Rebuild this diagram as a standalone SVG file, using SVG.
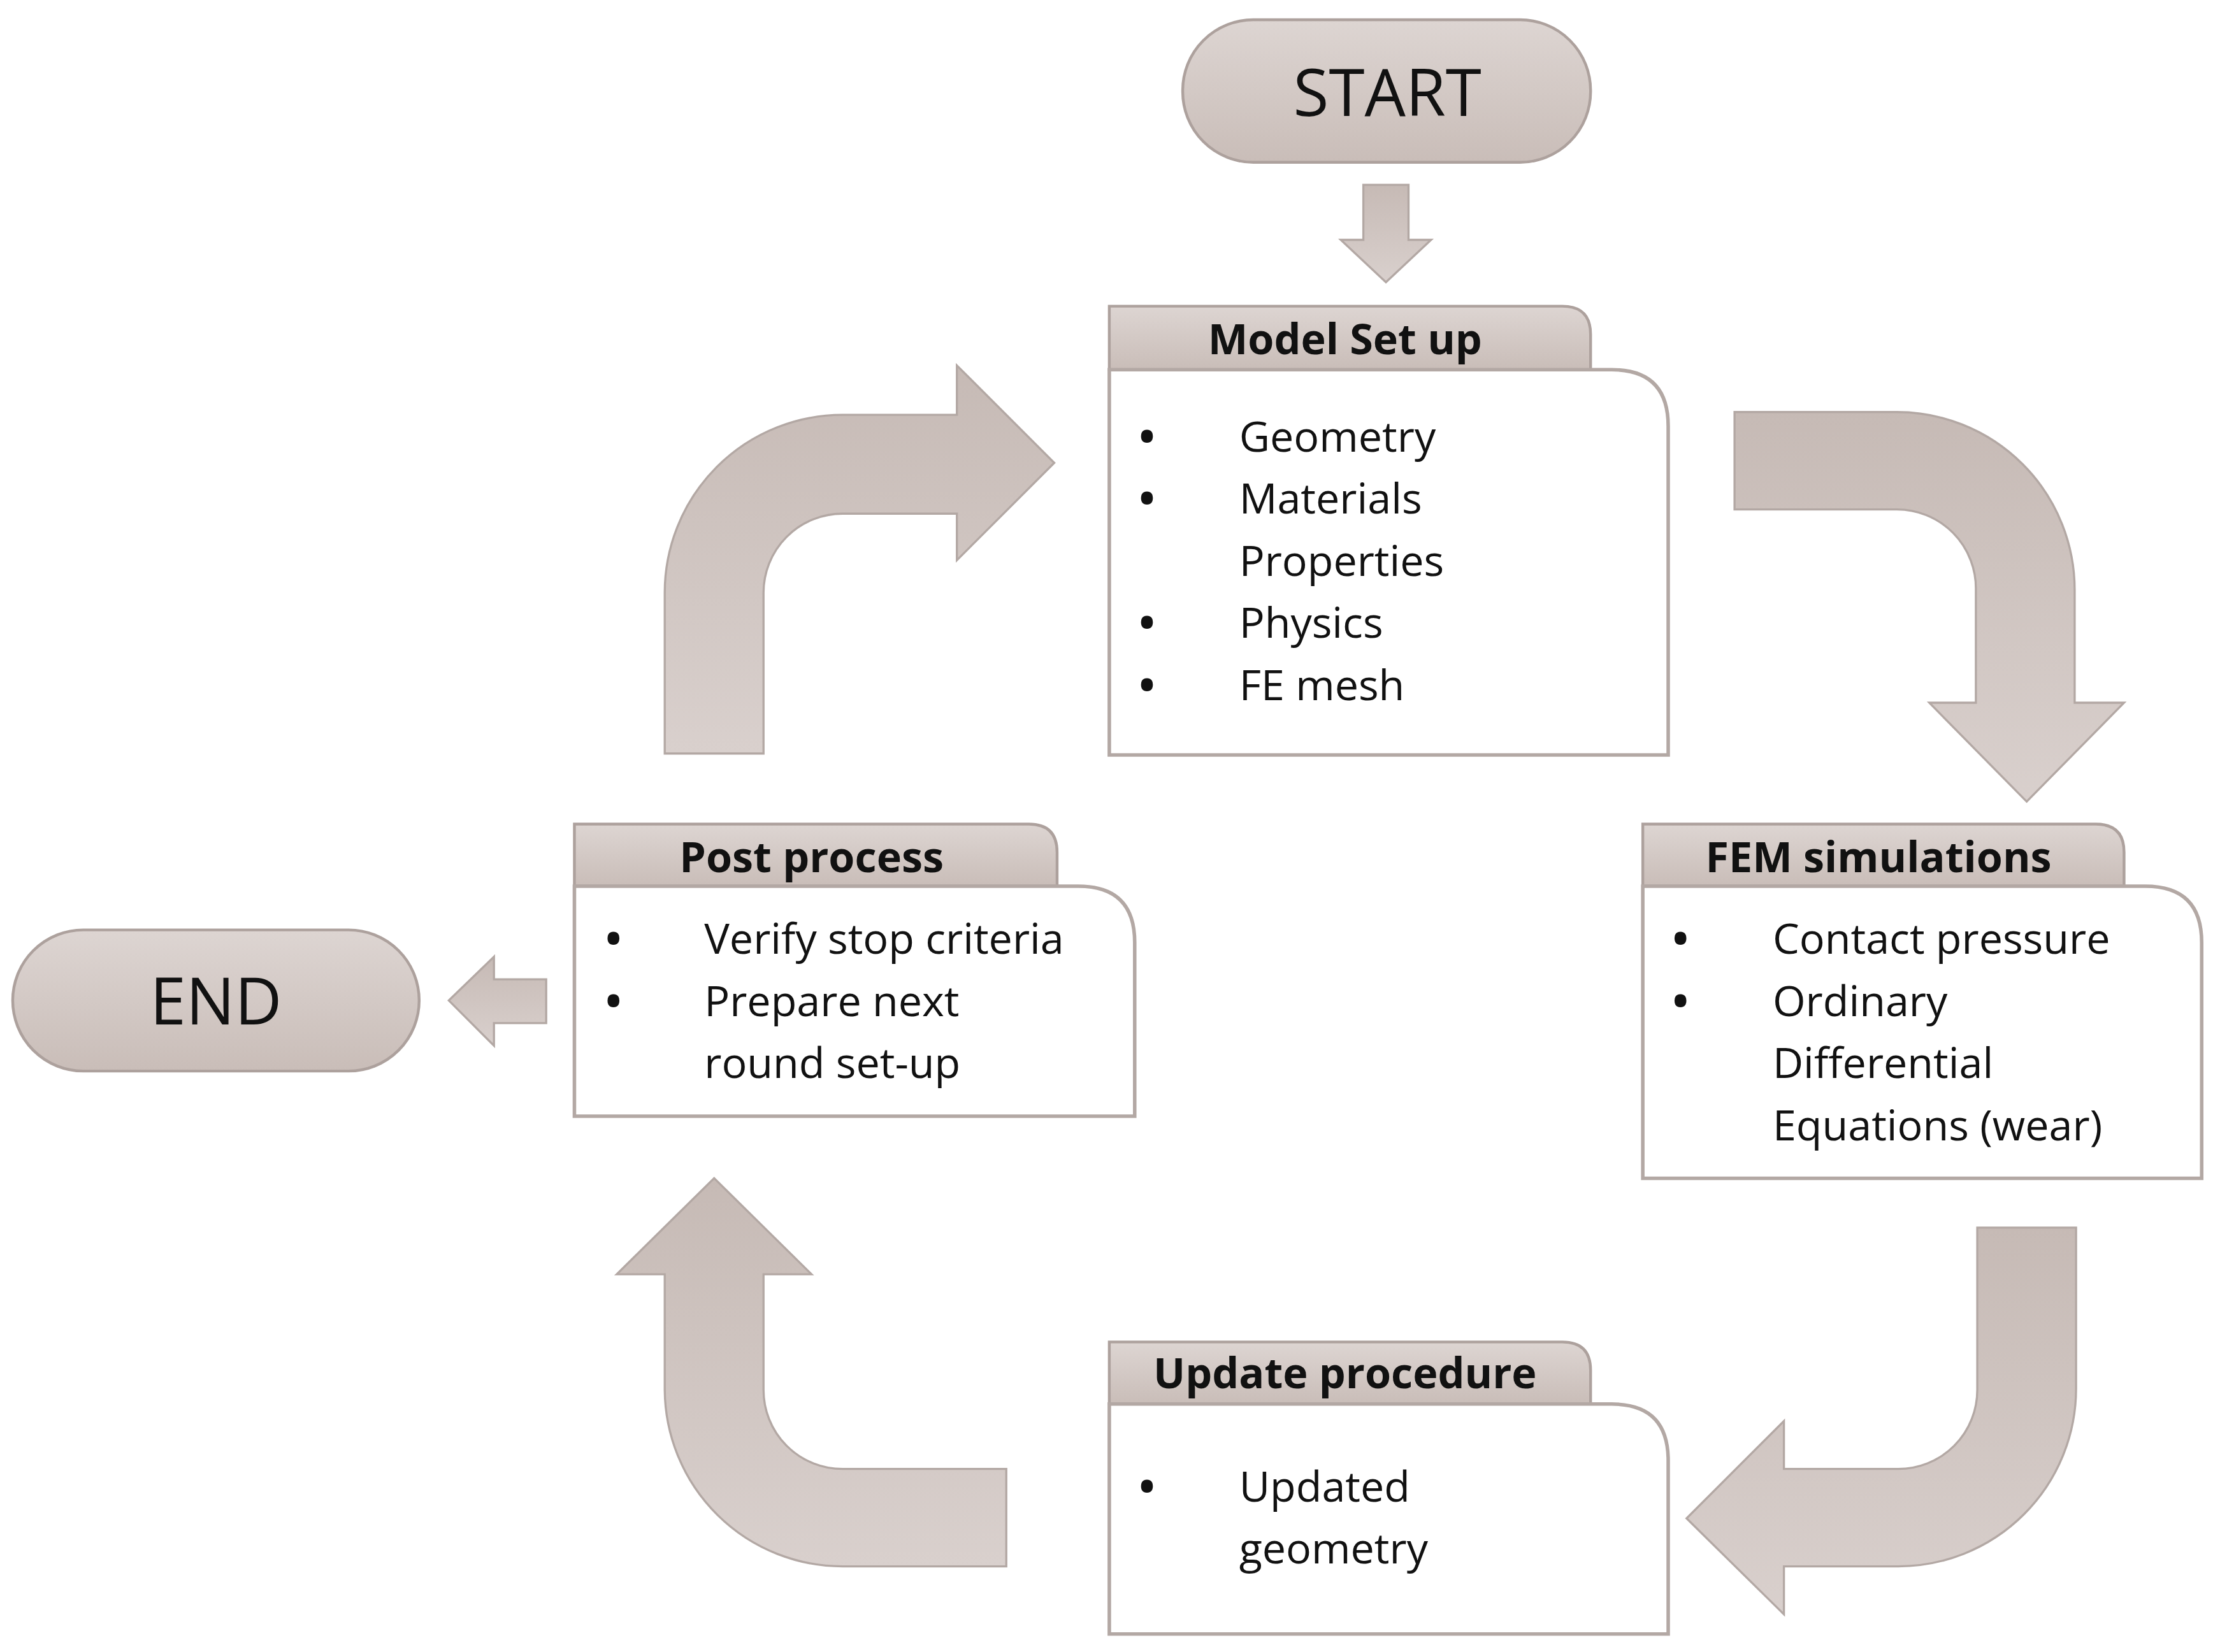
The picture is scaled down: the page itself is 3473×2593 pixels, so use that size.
<svg xmlns="http://www.w3.org/2000/svg" width="3473" height="2593" viewBox="0 0 3473 2593">
<defs>
<linearGradient id="g" x1="0" y1="0" x2="0" y2="1"><stop offset="0" stop-color="#ddd5d2"/><stop offset="1" stop-color="#c9bdb8"/></linearGradient>
<linearGradient id="ga" x1="0" y1="0" x2="0" y2="1"><stop offset="0" stop-color="#c6bab5"/><stop offset="1" stop-color="#d9d0cd"/></linearGradient>
<style>
.sh{fill:url(#g);stroke:#ada19d;stroke-width:2}
.ar{fill:url(#ga);stroke:#b3a8a4;stroke-width:1.5}
.body{fill:#fff;stroke:#b3a8a4;stroke-width:2.5}
.t{font-family:"Open Sans","Noto Sans",sans-serif;font-size:30px;fill:#111}
.b{font-family:"Open Sans","Noto Sans",sans-serif;font-size:30px;font-weight:bold;fill:#111}
.h{font-family:"Open Sans","Noto Sans",sans-serif;font-size:30px;font-weight:bold;fill:#111;text-anchor:middle}
.big{font-family:"Open Sans","Noto Sans",sans-serif;font-size:46px;fill:#111;text-anchor:middle}
</style>
</defs>
<rect width="3473" height="2593" fill="#fff"/>
<g transform="scale(2.2149)">
<g id="connectors">
<path class="ar" d="M966,131 L998,131 L998,170 L1014,170 L982,200 L950,170 L966,170 Z"/>
<path class="ar" d="M387,694 L387,725 L350,725 L350,741 L318,709 L350,678 L350,694 Z"/>
<path class="ar" d="M471,534 L471,420 A126,126 0 0 1 597,294 L678,294 L678,259 L747,328 L678,397 L678,364 L597,364 A56,56 0 0 0 541,420 L541,534 Z"/>
<path class="ar" d="M1229,292 L1344,292 A126,126 0 0 1 1470,418 L1470,498 L1505,498 L1436,568 L1367,498 L1400,498 L1400,418 A56,56 0 0 0 1344,361 L1229,361 Z"/>
<path class="ar" d="M1471,870 L1471,984 A126,126 0 0 1 1345,1110 L1264,1110 L1264,1144 L1195,1076 L1264,1007 L1264,1041 L1345,1041 A56,56 0 0 0 1401,985 L1401,870 Z"/>
<path class="ar" d="M713,1041 L597,1041 A56,56 0 0 1 541,985 L541,903 L575,903 L506,835 L437,903 L471,903 L471,985 A126,126 0 0 0 597,1110 L713,1110 Z"/>
</g>
<g id="start"><rect class="sh" x="838" y="14" width="289" height="101" rx="50"/><text class="big" x="983" y="82">START</text></g>
<g id="end"><rect class="sh" x="9" y="659" width="288" height="100" rx="50"/><text class="big" x="153" y="726">END</text></g>
<g id="model">
<path class="sh" d="M786,262 L786,217 L1107,217 Q1127,217 1127,237 L1127,262 Z"/>
<path class="body" d="M786,262 L1142,262 Q1182,262 1182,302 L1182,535 L786,535 Z"/>
<text class="h" x="953" y="251">Model Set up</text>
<text class="b" x="807" y="320">•</text><text class="t" x="878" y="320">Geometry</text>
<text class="b" x="807" y="364">•</text><text class="t" x="878" y="364">Materials</text>
<text class="t" x="878" y="408">Properties</text>
<text class="b" x="807" y="452">•</text><text class="t" x="878" y="452">Physics</text>
<text class="b" x="807" y="496">•</text><text class="t" x="878" y="496">FE mesh</text>
</g>
<g id="fem">
<path class="sh" d="M1164,628 L1164,584 L1485,584 Q1505,584 1505,604 L1505,628 Z"/>
<path class="body" d="M1164,628 L1520,628 Q1560,628 1560,668 L1560,835 L1164,835 Z"/>
<text class="h" x="1331" y="618">FEM simulations</text>
<text class="b" x="1185" y="676">•</text><text class="t" x="1256" y="676">Contact pressure</text>
<text class="b" x="1185" y="720">•</text><text class="t" x="1256" y="720">Ordinary</text>
<text class="t" x="1256" y="764">Differential</text>
<text class="t" x="1256" y="808">Equations (wear)</text>
</g>
<g id="post">
<path class="sh" d="M407,628 L407,584 L729,584 Q749,584 749,604 L749,628 Z"/>
<path class="body" d="M407,628 L764,628 Q804,628 804,668 L804,791 L407,791 Z"/>
<text class="h" x="575" y="618">Post process</text>
<text class="b" x="429" y="676">•</text><text class="t" x="499" y="676">Verify stop criteria</text>
<text class="b" x="429" y="720">•</text><text class="t" x="499" y="720">Prepare next</text>
<text class="t" x="499" y="764">round set-up</text>
</g>
<g id="update">
<path class="sh" d="M786,995 L786,951 L1107,951 Q1127,951 1127,971 L1127,995 Z"/>
<path class="body" d="M786,995 L1142,995 Q1182,995 1182,1035 L1182,1158 L786,1158 Z"/>
<text class="h" x="953" y="984">Update procedure</text>
<text class="b" x="807" y="1064">•</text><text class="t" x="878" y="1064">Updated</text>
<text class="t" x="878" y="1108">geometry</text>
</g>
</g>
</svg>
